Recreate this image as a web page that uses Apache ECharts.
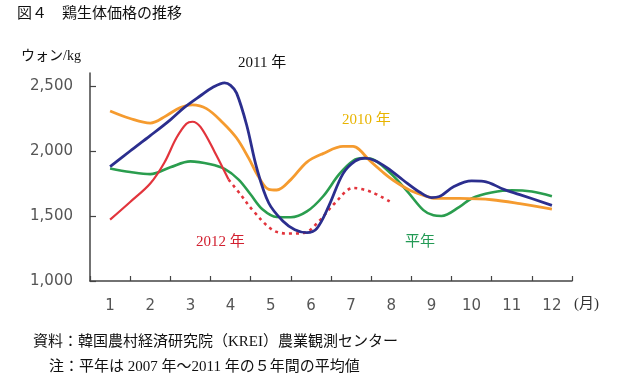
<!DOCTYPE html>
<html>
<head>
<meta charset="utf-8">
<script src="https://cdn.jsdelivr.net/npm/echarts@6/dist/echarts.min.js"></script>
<style>
html,body{margin:0;padding:0;background:#fff;}
#chart{width:623px;height:381px;}
</style>
</head>
<body>
<div id="chart"></div>
<script>
const months = ['1','2','3','4','5','6','7','8','9','10','11','12'];
const yTicks = [1000, 1500, 2000, 2500];
const yTickLabels = ['1,000', '1,500', '2,000', '2,500'];

const s2011 = [[1,1880],[1.5,2000],[2,2118],[2.5,2240],[2.85,2335],[3.25,2425],[3.55,2488],[3.85,2524],[4.0,2505],[4.15,2445],[4.4,2200],[4.65,1870],[4.95,1600],[5.3,1462],[5.6,1395],[5.9,1372],[6.15,1405],[6.45,1580],[6.8,1826],[7.1,1922],[7.35,1945],[7.6,1925],[7.9,1870],[8.3,1775],[8.7,1685],[9.0,1642],[9.2,1650],[9.55,1725],[10.0,1770],[10.3,1767],[10.8,1705],[11.2,1665],[12,1582]];
const s2010 = [[1,2308],[1.5,2250],[2,2215],[2.4,2272],[2.75,2335],[3.05,2355],[3.4,2326],[3.8,2220],[4.15,2100],[4.45,1945],[4.7,1800],[4.95,1705],[5.15,1700],[5.5,1780],[5.9,1915],[6.3,1980],[6.8,2035],[7.05,2035],[7.2,2012],[7.45,1930],[7.8,1835],[8.05,1775],[8.45,1700],[8.75,1665],[9.1,1636],[9.7,1635],[10.5,1625],[11.2,1595],[12,1552]];
const sAvg = [[1,1865],[1.5,1838],[2,1822],[2.5,1875],[3,1920],[3.5,1898],[3.85,1862],[4.2,1780],[4.5,1665],[4.8,1550],[5.15,1492],[5.5,1490],[5.9,1535],[6.3,1650],[6.7,1820],[7.05,1925],[7.3,1945],[7.5,1940],[7.95,1838],[8.4,1690],[8.8,1545],[9.05,1505],[9.25,1500],[9.7,1570],[10.0,1635],[10.5,1680],[11.0,1698],[11.5,1688],[12,1652]];
const s2012 = [[1,1472],[1.5,1608],[2,1750],[2.35,1910],[2.65,2100],[2.9,2210],[3.05,2225],[3.25,2185],[3.6,1995],[3.95,1780]];
const s2012b = [[3.95,1780],[4.25,1665],[4.55,1545],[5.05,1392],[5.45,1365],[5.85,1372],[6.2,1460],[6.6,1600],[7.05,1715],[7.5,1685],[8.0,1605]];

const chart = echarts.init(document.getElementById('chart'), null, {renderer:'canvas'});
const serif = "'Liberation Serif','Noto Sans CJK JP'";
const cjk = "'Noto Sans CJK JP'";
function txt(x, yc, text, color, size, family){
  return {type:'text', left:x, top:Math.round(yc - size/2 - 1), style:{text:text, fill:color, font: size + 'px ' + family}};
}
const option = {
  backgroundColor:'#fff',
  animation:false,
  grid:{left:90, right:51, top:73, bottom:100},
  xAxis:[{
    type:'category', data:months, boundaryGap:true,
    axisLine:{show:true, lineStyle:{color:'#444', width:1.5}},
    axisTick:{show:true, inside:true, length:5, interval:0, lineStyle:{color:'#444', width:1.2}},
    axisLabel:{color:'#555', fontSize:15, fontFamily:'DejaVu Sans', margin:18},
    splitLine:{show:false}
  },{
    type:'value', min:0.5, max:12.5, show:false
  }],
  yAxis:{
    type:'value', min:1000, max:2600, interval:500,
    axisLine:{show:true, lineStyle:{color:'#444', width:1.5}},
    axisTick:{show:true, inside:true, length:6, customValues:yTicks, lineStyle:{color:'#444', width:1.2}},
    axisLabel:{customValues:yTicks, color:'#555', fontSize:15, fontFamily:'DejaVu Sans', margin:17,
      formatter:function(v){ const i = yTicks.indexOf(v); return i >= 0 ? yTickLabels[i] : ''; }},
    splitLine:{show:false}
  },
  series:[
    {name:'平年', type:'line', xAxisIndex:1, data:sAvg, smooth:0.35, symbol:'none', lineStyle:{color:'#2a9d4e', width:2.6}},
    {name:'2010年', type:'line', xAxisIndex:1, data:s2010, smooth:0.35, symbol:'none', lineStyle:{color:'#f59b2f', width:2.8}},
    {name:'2012年', type:'line', xAxisIndex:1, data:s2012, smooth:0.35, symbol:'none', lineStyle:{color:'#e2343c', width:2.2}},
    {name:'2012年見通し', type:'line', xAxisIndex:1, data:s2012b, smooth:0.35, symbol:'none', lineStyle:{color:'#e2343c', width:2.6, type:[3,4]}},
    {name:'2011年', type:'line', xAxisIndex:1, data:s2011, smooth:0.35, symbol:'none', lineStyle:{color:'#2b2e8e', width:2.8}}
  ],
  graphic:[
    txt(17, 13, '図４　鶏生体価格の推移', '#111', 15, cjk),
    txt(21, 57, 'ウォン/kg', '#111', 14, serif),
    txt(238, 64, '2011 年', '#111', 15, serif),
    txt(342, 121, '2010 年', '#e8b400', 15, serif),
    txt(196, 243, '2012 年', '#d22030', 15, serif),
    txt(405, 241, '平年', '#239a55', 15, cjk),
    txt(574, 305, '(月)', '#333', 15, serif),
    txt(33, 343, '資料：韓国農村経済研究院（KREI）農業観測センター', '#111', 15, serif),
    txt(49, 368, '注：平年は 2007 年～2011 年の５年間の平均値', '#111', 15, serif)
  ]
};
chart.setOption(option);
</script>
</body>
</html>
